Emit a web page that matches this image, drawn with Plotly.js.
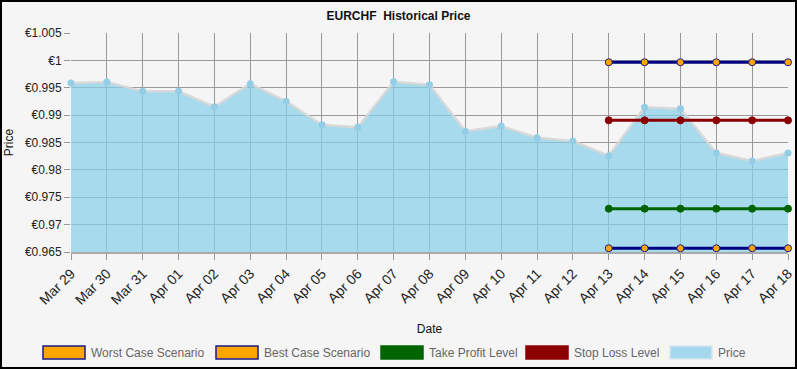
<!DOCTYPE html>
<html><head><meta charset="utf-8">
<script src="https://cdn.plot.ly/plotly-3.0.1.min.js"></script>
<style>html,body{margin:0;padding:0;background:#f5f5f5}
#chart{width:793px;height:365px;border:2px solid #000}</style>
</head><body><div id="chart"></div>
<script>
var dates = ['Mar 29','Mar 30','Mar 31','Apr 01','Apr 02','Apr 03','Apr 04','Apr 05','Apr 06','Apr 07','Apr 08','Apr 09','Apr 10','Apr 11','Apr 12','Apr 13','Apr 14','Apr 15','Apr 16','Apr 17','Apr 18'];
var price = [0.99586,0.99604,0.99434,0.99434,0.99153,0.99573,0.99252,0.98825,0.98777,0.9961,0.99555,0.98704,0.98801,0.98587,0.98527,0.98259,0.99142,0.99117,0.98308,0.98162,0.98308];
var levelDates = ['Apr 13','Apr 14','Apr 15','Apr 16','Apr 17','Apr 18'];
var worstCase = [0.99966,0.99966,0.99966,0.99966,0.99966,0.99966];
var bestCase = [0.96568,0.96568,0.96568,0.96568,0.96568,0.96568];
var takeProfit = [0.97291,0.97291,0.97291,0.97291,0.97291,0.97291];
var stopLoss = [0.98905,0.98905,0.98905,0.98905,0.98905,0.98905];
var yTickVals = [0.965,0.97,0.975,0.98,0.985,0.99,0.995,1,1.005];
var yTickText = ['€0.965','€0.97','€0.975','€0.98','€0.985','€0.99','€0.995','€1','€1.005'];
var legendNames = ['Worst Case Scenario','Best Case Scenario','Take Profit Level','Stop Loss Level','Price'];
var legendFill = ['#ffa500','#ffa500','#006400','#8b0000','#a5d8ee'];
var legendLine = ['#1a1a8c','#1a1a8c','#006400','#8b0000','#d8e8ee'];

var W=793,H=365, M={l:69,r:7,t:31,b:115};
var pw=W-M.l-M.r, ph=H-M.t-M.b;
function px(x){return (x-2-M.l)/pw;}
function py(y){return (H-M.b+2-y)/ph;}

function levelTrace(name,y,lc,mc,mlc){
  return {x:levelDates,y:y,name:name,type:'scatter',mode:'lines+markers',cliponaxis:false,
    line:{color:lc,width:3},marker:{size:7,color:mc,line:{color:mlc,width:1}},hoverinfo:'y'};
}
var traces = [
  {x:dates,y:price,name:'Price',type:'scatter',mode:'lines+markers',fill:'tozeroy',
   fillcolor:'rgba(135,206,235,0.7)',cliponaxis:false,
   line:{color:'rgba(215,215,215,0.9)',width:2.5},marker:{size:7,color:'#93cde6'}},
  levelTrace('Worst Case Scenario',worstCase,'#000080','#ffa500','#1a1a8c'),
  levelTrace('Best Case Scenario',bestCase,'#000080','#ffa500','#1a1a8c'),
  levelTrace('Take Profit Level',takeProfit,'#006400','#006400','#006400'),
  levelTrace('Stop Loss Level',stopLoss,'#8b0000','#8b0000','#8b0000')
];

var boxX = [43,216,381,526,670];
var shapes=[], annotations=[];
for (var i=0;i<legendNames.length;i++){
  shapes.push({type:'rect',xref:'paper',yref:'paper',x0:px(boxX[i]),x1:px(boxX[i]+42),y0:py(359),y1:py(346),
    fillcolor:legendFill[i],line:{color:legendLine[i],width:1.5}});
  annotations.push({xref:'paper',yref:'paper',x:px(boxX[i]+46),y:py(352.5),xanchor:'left',yanchor:'middle',
    text:legendNames[i],showarrow:false,font:{family:'Liberation Sans, Arial',size:12,color:'#666'}});
}

var layout = {
  width:W,height:H,margin:M,paper_bgcolor:'#f5f5f5',plot_bgcolor:'#f5f5f5',showlegend:false,
  font:{family:'Liberation Sans, Arial',size:12,color:'#222'},
  title:{text:'<b>EURCHF  Historical Price</b>',x:0.5,xref:'container',y:1-14/H,yref:'container',yanchor:'middle',
    font:{size:12,color:'#111'}},
  xaxis:{type:'category',categoryorder:'array',categoryarray:dates,range:[0,dates.length-1],
    showgrid:true,gridcolor:'#999',gridwidth:1,showline:true,linecolor:'#aaa',linewidth:2,
    ticks:'outside',ticklen:6,tickcolor:'#999',tickangle:-45,tickfont:{size:14,color:'#222'},
    title:{text:'Date',standoff:18,font:{size:12,color:'#111'}},zeroline:false},
  yaxis:{range:[0.965,1.005],tickvals:yTickVals,ticktext:yTickText,showgrid:true,gridcolor:'#999',gridwidth:1,
    ticks:'outside',ticklen:6,tickcolor:'#999',tickfont:{size:12,color:'#222'},zeroline:false,
    title:{text:'Price',standoff:8,font:{size:12,color:'#111'}}},
  shapes:shapes,annotations:annotations
};
Plotly.newPlot('chart',traces,layout,{displayModeBar:false,staticPlot:true});
</script></body></html>
